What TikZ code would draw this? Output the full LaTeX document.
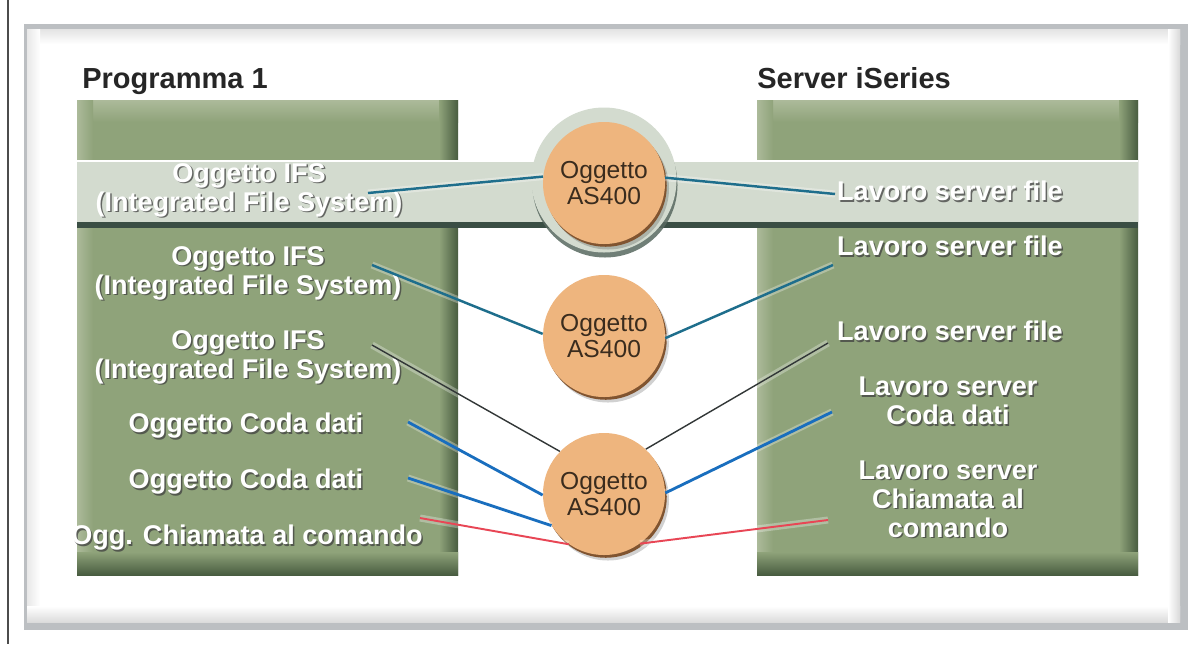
\documentclass[tikz,border=0pt]{standalone}
\usepackage{fontspec}
\setmainfont{Liberation Sans}
\usetikzlibrary{positioning}
\definecolor{panelgreen}{RGB}{143,163,122}
\definecolor{paneldark}{RGB}{72,92,64}
\definecolor{panellight}{RGB}{172,186,154}
\definecolor{bandgray}{RGB}{211,219,207}
\definecolor{banddark}{RGB}{58,78,68}
\definecolor{ballorange}{RGB}{238,181,126}
\definecolor{ballrim}{RGB}{128,84,48}
\definecolor{balltext}{RGB}{58,44,30}
\definecolor{linkteal}{RGB}{30,110,140}
\definecolor{linkblue}{RGB}{25,110,190}
\definecolor{linkred}{RGB}{232,70,85}
\definecolor{linkblack}{RGB}{50,55,55}
\definecolor{framegray}{RGB}{188,191,194}
\newcommand\shlabel[3]{\node[lblsh] at ([shift={(1.5,1.8)}]#2) {#3};\node[lbl] (#1) at (#2) {#3};}

\begin{document}
\begin{tikzpicture}[x=0.2mm, y=-0.2mm,
  head/.style={font=\fontsize{16.5}{18}\selectfont\bfseries, text=black!85, inner sep=0pt},
  lbl/.style={align=center, text=white, font=\fontsize{15.4}{16.5}\selectfont\bfseries, inner sep=0pt},
  lblsh/.style={lbl, text=black!75, opacity=0.75},
  ball/.style={circle, minimum size=24.4mm, inner sep=0pt, fill=ballorange, align=center,
    font=\fontsize{14}{15}\selectfont, text=balltext,
    preaction={fill=black, opacity=0.18, transform canvas={shift={(0.8mm,-1.1mm)}}},
    preaction={fill=ballrim, transform canvas={shift={(0.35mm,-0.55mm)}}}},
  halo/.style={circle, minimum size=29mm, inner sep=0pt, fill=bandgray,
    preaction={fill=banddark!85, opacity=0.85, transform canvas={shift={(0.2mm,-1mm)}}}},
  link/.style={line width=1.4pt, preaction={draw=white, opacity=0.3, line width=4pt}}]
\useasboundingbox (0,0) rectangle (1194,644);
\draw[gray!60!black, line width=1.1pt] (8,0) -- (8,644);
% frame
\fill[framegray] (24,24) rectangle (1188,630);
\fill[white] (27,29) rectangle (1180,622);
\shade[top color=gray!22, bottom color=white] (27,29) rectangle (1180,44);
\shade[left color=gray!18, right color=white] (27,29) rectangle (40,622);
\shade[top color=white, bottom color=gray!28] (27,606) rectangle (1180,622);
\shade[left color=white, right color=gray!30] (1168,29) rectangle (1180,622);
% panels
\foreach \px in {77,757}{
  \fill[panelgreen] (\px,100) rectangle ({\px+381},575);
  \shade[top color=panellight, bottom color=panelgreen] (\px,100) rectangle ({\px+381},122);
  \shade[left color=panellight, right color=panelgreen] (\px,100) rectangle ({\px+16},575);
  \shade[left color=panelgreen, right color=paneldark] ({\px+362},100) rectangle ({\px+381},575);
  \shade[top color=panelgreen, bottom color=paneldark] (\px,552) rectangle ({\px+381},575);
}
\node[head, anchor=base west] (progT) at (82,88) {Programma 1};
\node[head, anchor=base west] (srvT) at (757,88) {Server iSeries};
% band
\fill[bandgray] (77,160) rectangle (1138,228);
\fill[banddark] (77,222) rectangle (1138,228);
\draw[white, line width=1pt] (77,161) -- (1138,161);
\node[halo] (haloA) at (604,180) {};
\node[ball] (objA) at (604,183) {Oggetto\\AS400};
\node[ball] (objB) at (604,336) {Oggetto\\AS400};
\node[ball] (objC) at (604,494) {Oggetto\\AS400};
% labels
\shlabel{ifsA}{249,190}{Oggetto IFS\\(Integrated File System)}
\shlabel{ifsB}{248,273}{Oggetto IFS\\(Integrated File System)}
\shlabel{ifsC}{248,357}{Oggetto IFS\\(Integrated File System)}
\shlabel{codaA}{246,426}{Oggetto Coda dati}
\shlabel{codaB}{246,482}{Oggetto Coda dati}
\shlabel{cmd}{247,538}{Ogg. Chiamata al comando}
\shlabel{srvA}{950,191}{Lavoro server file}
\shlabel{srvB}{950,246}{Lavoro server file}
\shlabel{srvC}{950,331}{Lavoro server file}
\shlabel{srvD}{948,401}{Lavoro server\\Coda dati}
\shlabel{srvE}{948,499}{Lavoro server\\Chiamata al\\comando}
% links
\coordinate (pA) at (368,193); \coordinate (qA) at (835,194);
\coordinate (pB) at (372,265); \coordinate (qB) at (833,265);
\coordinate (pC) at (372,345); \coordinate (qC) at (828,343);
\coordinate (pD) at (408,422); \coordinate (qD) at (832,412);
\coordinate (pE) at (408,478);
\coordinate (pF) at (420,518); \coordinate (qF) at (828,520);
\draw[link, linkteal] (pA) -- (objA.174); \draw[link, linkteal] (objA.5) -- (qA);
\draw[link, linkteal] (pB) -- (objB.178); \draw[link, linkteal] (objB.358) -- (qB);
\draw[link, linkblack, line width=0.8pt] (pC) -- (objC.136); \draw[link, linkblack, line width=0.8pt] (objC.47) -- (qC);
\draw[link, linkblue, line width=1.6pt] (pD) -- (objC.181); \draw[link, linkblue, line width=1.6pt] (objC.1) -- (qD);
\draw[link, linkblue, line width=1.6pt] (pE) -- (objC.211);
\draw[link, linkred, line width=1.1pt] (pF) -- (objC.235); \draw[link, linkred, line width=1.1pt] (objC.306) -- (qF);
\end{tikzpicture}
\end{document}
